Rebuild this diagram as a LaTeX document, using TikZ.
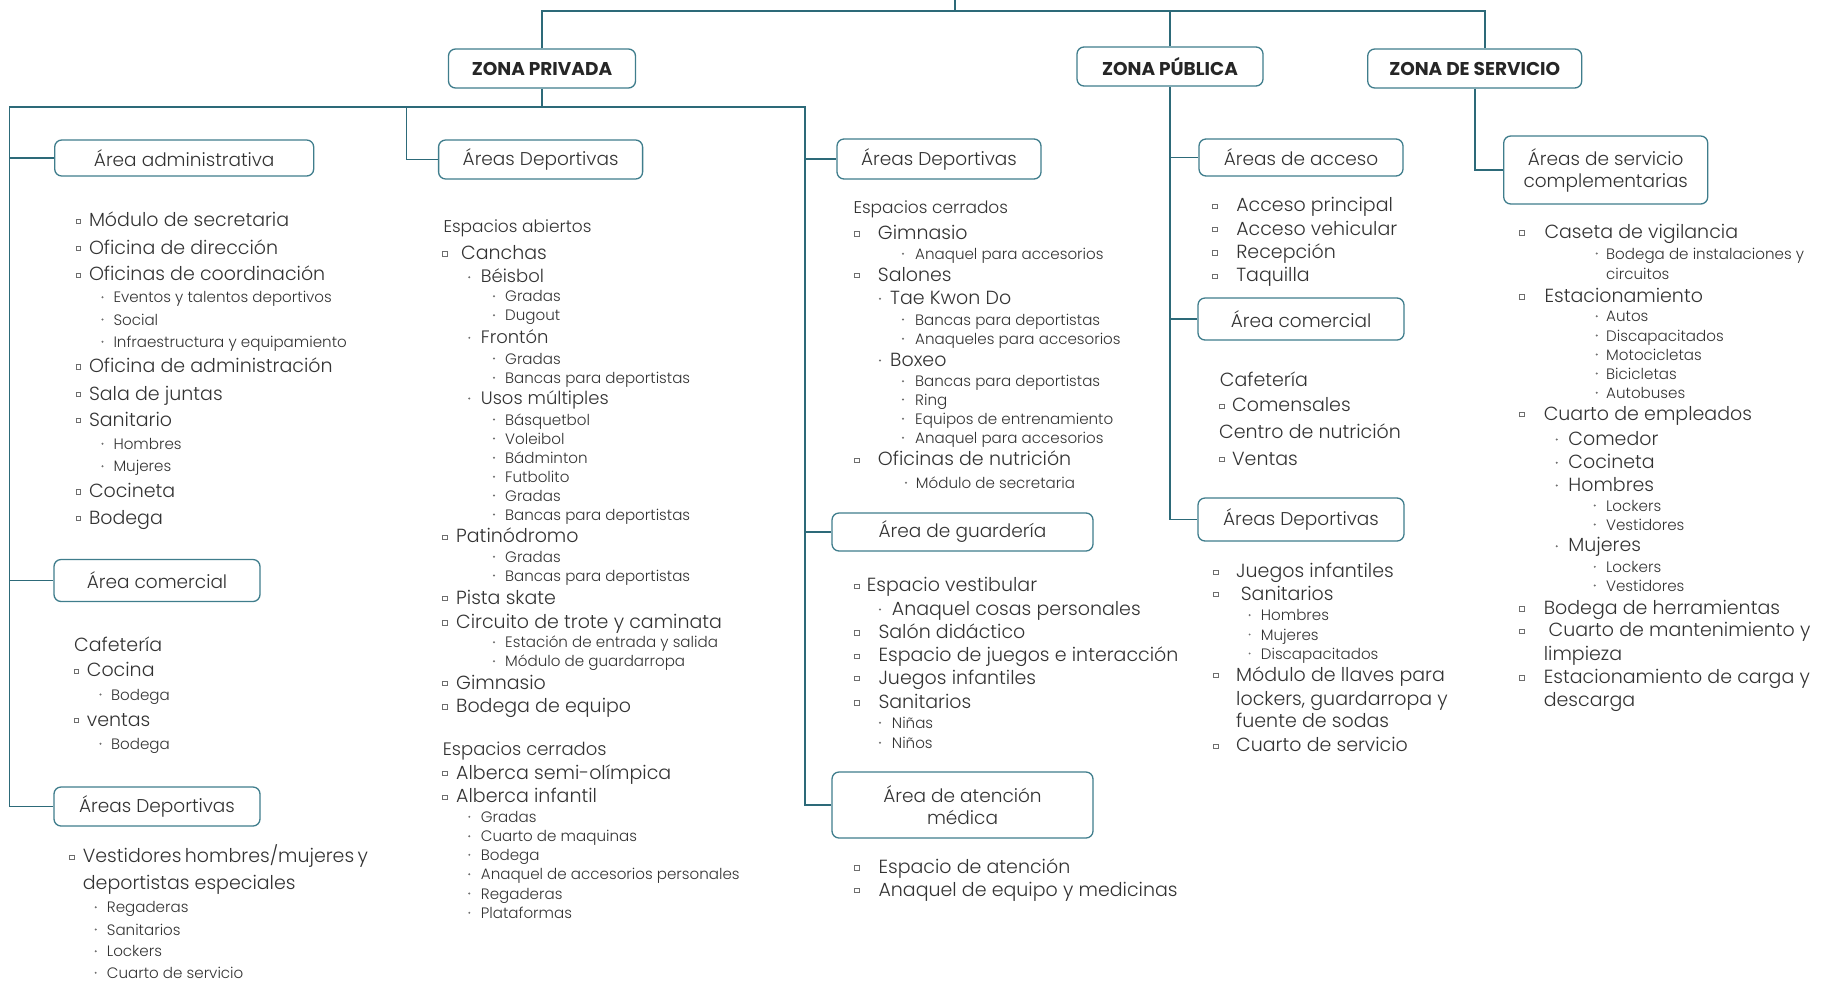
\documentclass[tikz,border=0pt]{standalone}
\usepackage{fontspec}
\setmainfont{Poppins}[UprightFont=* Light, BoldFont=* Bold]

\definecolor{wirec}{HTML}{2D6A79}
\definecolor{boxc}{HTML}{3F7D8C}
\definecolor{txtc}{HTML}{333333}
\definecolor{bulc}{HTML}{6E6E6E}

\newcommand{\fbig}{\fontsize{19}{22}\selectfont}
\newcommand{\fareabox}{\fontsize{18.5}{22}\selectfont}
\newcommand{\fmid}{\fontsize{18}{21}\selectfont}
\newcommand{\fhdr}{\fontsize{17}{20}\selectfont}
\newcommand{\fsml}{\fontsize{15.1}{18}\selectfont}
\newcommand{\fzone}{\fontsize{18.5}{21}\selectfont\bfseries}

\tikzset{
  wire/.style={draw=wirec, line width=1.6pt},
  box/.style={draw=boxc, line width=1.3pt, rounded corners=7pt, fill=white,
    text=txtc, align=center, inner sep=0pt, font=\fareabox},
  zone/.style={box, font=\fzone, text=black!85, minimum height=39pt},
  % list entries
  big/.style={anchor=base west, inner sep=0pt, text=txtc, font=\fbig},
  mid/.style={big, font=\fmid},
  hdr/.style={big, font=\fhdr},
  sml/.style={big, font=\fsml},
  sqb/.style={draw=bulc, fill=white, line width=0.7pt, inner sep=0pt, minimum size=4.5pt},
  dtb/.style={circle, fill=bulc, inner sep=0pt, minimum size=2.2pt},
  nob/.style={inner sep=0pt, minimum size=0pt}
}

% one line of a list: bullet kind / bullet x / text x / baseline / font / text
\newcommand{\listing}[2]{%
  \foreach \bk/\bx/\tx/\yy/\fs/\lbl [count=\n] in {#2} {
    \path (\bx,\yy-5.5) node[\bk] (#1b\n) {};
    \node[\fs] (#1t\n) at (\tx,\yy) {\lbl};
  }}

\begin{document}
\begin{tikzpicture}[x=1pt, y=-1pt]
\useasboundingbox (0,0) rectangle (1822,989);

% zones
\node[zone, minimum width=187pt] (zpriv) at (542,68.5) {ZONA PRIVADA};
\node[zone, minimum width=186pt] (zpub) at (1170,66.5) {ZONA PÚBLICA};
\node[zone, minimum width=214pt] (zserv) at (1474.7,68.5) {ZONA DE SERVICIO};

% areas
\node[box, minimum width=259pt, minimum height=36pt] (adm) at (184.2,158) {Área administrativa};
\node[box, minimum width=206pt, minimum height=42pt] (com1) at (157,580.5) {Área comercial};
\node[box, minimum width=206pt, minimum height=39pt] (dep1) at (157,806.5) {Áreas Deportivas};
\node[box, minimum width=204pt, minimum height=39pt] (dep2) at (540.6,159.5) {Áreas Deportivas};
\node[box, minimum width=204pt, minimum height=40pt] (dep3) at (939,159) {Áreas Deportivas};
\node[box, minimum width=261pt, minimum height=38pt] (guard) at (962.5,532) {Área de guardería};
\node[box, minimum width=261pt, minimum height=66pt] (med) at (962.5,805) {Área de atención\\médica};
\node[box, minimum width=204pt, minimum height=37pt] (acc) at (1301,157.5) {Áreas de acceso};
\node[box, minimum width=206pt, minimum height=42pt] (com4) at (1301,319) {Área comercial};
\node[box, minimum width=206pt, minimum height=43pt] (dep4) at (1301,519.5) {Áreas Deportivas};
\node[box, minimum width=204pt, minimum height=68pt] (servc) at (1605.7,170) {Áreas de servicio\\complementarias};

% connectors
\coordinate (root) at (955,0);
\coordinate (tl) at (543,10.7);
\coordinate (tr) at (1485,10.7);
\coordinate (pl) at (9.6,107);
\coordinate (pm) at (406.4,107);
\coordinate (pr) at (805,107);
\draw[wire] (root) -- (root |- tl);
\draw[wire] (zpriv.north) -- (zpriv.north |- tl) -- (tr) -- (tr |- zserv.north);
\draw[wire] (zpub.north) -- (zpub.north |- tl);
\draw[wire] (zpriv.south) -- (zpriv.south |- pl);
\draw[wire] (dep1.west) -| (pl) -- (pr) |- (med.west);
\draw[wire] (pl |- adm.west) -- (adm.west);
\draw[wire] (pl |- com1.west) -- (com1.west);
\draw[wire] (pm) |- (dep2.west);
\draw[wire] (pr |- dep3.west) -- (dep3.west);
\draw[wire] (pr |- guard.west) -- (guard.west);
\draw[wire] (zpub.south) |- (dep4.west);
\draw[wire] (zpub.south |- acc.west) -- (acc.west);
\draw[wire] (zpub.south |- com4.west) -- (com4.west);
\draw[wire] (zserv.south) |- (servc.west);

% zona privada, first column
\listing{ca}{
  sqb/78.5/88.8/226.7/big/Módulo de secretaria,
  sqb/78.5/88.8/254/big/Oficina de dirección,
  sqb/78.5/88.8/280.7/big/Oficinas de coordinación,
  dtb/102.5/113.3/302.7/sml/Eventos y talentos deportivos,
  dtb/102.5/113.3/325/sml/Social,
  dtb/102.5/113.3/347.3/sml/Infraestructura y equipamiento,
  sqb/78.5/88.8/372.3/big/Oficina de administración,
  sqb/78.5/88.8/400/big/Sala de juntas,
  sqb/78.5/88.8/426/big/Sanitario,
  dtb/102.5/113.3/449.3/sml/Hombres,
  dtb/102.5/113.3/471.7/sml/Mujeres,
  sqb/78.5/88.8/497.3/big/Cocineta,
  sqb/78.5/88.8/524/big/Bodega}
\listing{cb}{
  nob/74/74/651/big/Cafetería,
  sqb/76.5/86.7/676.7/big/Cocina,
  dtb/100.5/111/700/sml/Bodega,
  sqb/76.5/86.7/726/big/ventas,
  dtb/100.5/111/749.3/sml/Bodega}
\listing{cc}{
  sqb/72/82.7/862.7/big/{\makebox[284pt][s]{Vestidores hombres/mujeres y}},
  nob/82.7/82.7/889.3/big/deportistas especiales,
  dtb/95.7/106.7/912.7/sml/Regaderas,
  dtb/95.7/106.7/935/sml/Sanitarios,
  dtb/95.7/106.7/956.7/sml/Lockers,
  dtb/95.7/106.7/978.3/sml/Cuarto de servicio}

% zona privada, second column
\listing{da}{
  nob/443/443.3/232.7/hdr/Espacios abiertos,
  sqb/445/461/259.3/big/Canchas,
  dtb/469.3/480.7/282.7/mid/Béisbol,
  dtb/494/505/301.7/sml/Gradas,
  dtb/494/505/320.7/sml/Dugout,
  dtb/469.3/480.7/343.3/mid/Frontón,
  dtb/494/505/364/sml/Gradas,
  dtb/494/505/383.3/sml/Bancas para deportistas,
  dtb/469.3/480.7/404/mid/Usos múltiples,
  dtb/494/505/425/sml/Básquetbol,
  dtb/494/505/444/sml/Voleibol,
  dtb/494/505/463.3/sml/Bádminton,
  dtb/494/505/482.3/sml/Futbolito,
  dtb/494/505/501/sml/Gradas,
  dtb/494/505/520/sml/Bancas para deportistas,
  sqb/445/456/542.7/big/Patinódromo,
  dtb/494/505/562.3/sml/Gradas,
  dtb/494/505/581/sml/Bancas para deportistas,
  sqb/445/456/604/big/Pista skate,
  sqb/445/456/628.3/big/Circuito de trote y caminata,
  dtb/494/505/647.7/sml/Estación de entrada y salida,
  dtb/494/505/666.7/sml/Módulo de guardarropa,
  sqb/445/456/689/big/Gimnasio,
  sqb/445/456/712.3/big/Bodega de equipo,
  nob/443/442.7/755.7/mid/Espacios cerrados,
  sqb/445/456/779/big/Alberca semi-olímpica,
  sqb/445/456/802.7/big/Alberca infantil,
  dtb/469.3/480.7/822.3/sml/Gradas,
  dtb/469.3/480.7/841.7/sml/Cuarto de maquinas,
  dtb/469.3/480.7/860.3/sml/Bodega,
  dtb/469.3/480.7/879.7/sml/Anaquel de accesorios personales,
  dtb/469.3/480.7/899/sml/Regaderas,
  dtb/469.3/480.7/918.3/sml/Plataformas}

% zona privada, third column
\listing{ea}{
  nob/853/853.3/213.3/hdr/Espacios cerrados,
  sqb/856.7/877.7/239.3/big/Gimnasio,
  dtb/903/915/259.3/sml/Anaquel para accesorios,
  sqb/856.7/877.7/281/big/Salones,
  dtb/880/890/304.3/big/Tae Kwon Do,
  dtb/903/915/325/sml/Bancas para deportistas,
  dtb/903/915/344.3/sml/Anaqueles para accesorios,
  dtb/880/890/366/big/Boxeo,
  dtb/903/915/386.7/sml/Bancas para deportistas,
  dtb/903/915/405/sml/Ring,
  dtb/903/915/424.3/sml/Equipos de entrenamiento,
  dtb/903/915/443.3/sml/Anaquel para accesorios,
  sqb/856.7/877.7/465.7/big/Oficinas de nutrición,
  dtb/906/915.7/488.3/sml/Módulo de secretaria}
\listing{eb}{
  sqb/856.7/866.7/591.7/big/Espacio vestibular,
  dtb/880/891.7/615/big/Anaquel cosas personales,
  sqb/856.7/878.3/638.3/big/Salón didáctico,
  sqb/856.7/878.3/661.7/big/Espacio de juegos e interacción,
  sqb/856.7/878.3/684/big/Juegos infantiles,
  sqb/856.7/878.3/708.3/big/Sanitarios,
  dtb/880/891.7/728.3/sml/Niñas,
  dtb/880/891.7/748.3/sml/Niños}
\listing{ec}{
  sqb/856.7/878.3/873.3/big/Espacio de atención,
  sqb/856.7/878.3/896/big/Anaquel de equipo y medicinas}

% zona publica
\listing{fa}{
  sqb/1214.8/1236.1/211.7/big/Acceso principal,
  sqb/1214.8/1236.1/235/big/Acceso vehicular,
  sqb/1214.8/1236.1/258.3/big/Recepción,
  sqb/1214.8/1236.1/281.7/big/Taquilla}
\listing{fb}{
  nob/1219.7/1219.7/386.7/big/Cafetería,
  sqb/1222/1232/411.7/big/Comensales,
  nob/1219/1219/438.3/big/Centro de nutrición,
  sqb/1222/1232/465/big/Ventas}
\listing{fc}{
  sqb/1215.6/1236/577.7/big/Juegos infantiles,
  sqb/1215.6/1240.6/600/big/Sanitarios,
  dtb/1249.6/1260.7/620.7/sml/Hombres,
  dtb/1249.6/1260.7/640/sml/Mujeres,
  dtb/1249.6/1260.7/659/sml/Discapacitados,
  sqb/1215.6/1236/681/big/Módulo de llaves para,
  nob/1236/1236/705/big/{lockers, guardarropa y},
  nob/1236/1236/727.3/big/fuente de sodas,
  sqb/1215.6/1236/751.7/big/Cuarto de servicio}

% zona de servicio
\listing{ga}{
  sqb/1522/1544.3/238.3/big/Caseta de vigilancia,
  dtb/1596.7/1606/259/sml/Bodega de instalaciones y,
  nob/1606/1606/279/sml/circuitos,
  sqb/1522/1544.3/302.3/big/Estacionamiento,
  dtb/1596.7/1606/321.7/sml/Autos,
  dtb/1596.7/1606/341/sml/Discapacitados,
  dtb/1596.7/1606/360/sml/Motocicletas,
  dtb/1596.7/1606/379/sml/Bicicletas,
  dtb/1596.7/1606/398.3/sml/Autobuses,
  sqb/1522/1543.6/420/big/Cuarto de empleados,
  dtb/1556.7/1568.2/445/big/Comedor,
  dtb/1556.7/1568.2/468.3/big/Cocineta,
  dtb/1556.7/1568.2/491/big/Hombres,
  dtb/1594.8/1605.9/511/sml/Lockers,
  dtb/1594.8/1605.9/530/sml/Vestidores,
  dtb/1556.7/1568.2/551.7/big/Mujeres,
  dtb/1594.8/1605.9/572.3/sml/Lockers,
  dtb/1594.8/1605.9/591/sml/Vestidores,
  sqb/1522/1543.6/614.3/big/Bodega de herramientas,
  sqb/1522/1548.5/636.7/big/Cuarto de mantenimiento y,
  nob/1543.6/1543.6/660/big/limpieza,
  sqb/1522/1543.6/683.3/big/Estacionamiento de carga y,
  nob/1543.6/1543.6/706.7/big/descarga}
\end{tikzpicture}
\end{document}
